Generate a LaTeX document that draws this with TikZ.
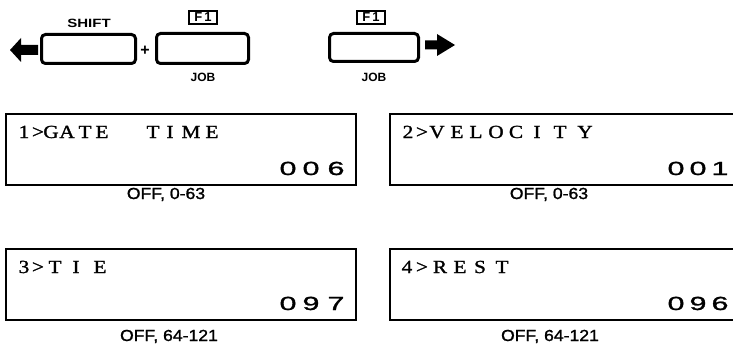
\documentclass[tikz,border=0pt]{standalone}
\usepackage{fontspec}
\usepackage{graphicx}
\setmainfont{Liberation Serif}
\newfontfamily\sansf{Liberation Sans}
\newfontfamily\sansm[FakeBold=1.2]{Liberation Sans}
\newfontfamily\serifm[FakeBold=1.2]{Liberation Serif}
\newcommand\lcdch[1]{\scalebox{1.15}[1]{\fontsize{18.5}{18.5}\serifm #1}}
\newcommand\lcdnum[1]{\scalebox{1.6}[1]{\fontsize{19}{19}\sansm #1}}
\newcommand\rangelbl[1]{\scalebox{1.1}[1]{\fontsize{16}{16}\sansm #1}}
\begin{document}
\begin{tikzpicture}[x=1pt,y=-1pt,
  disp/.style={draw,line width=2pt,inner sep=0,minimum width=350pt,minimum height=71pt},
  key/.style={draw,line width=3pt,rounded corners=4pt,inner sep=0},
  flabel/.style={draw,line width=1.6pt,inner sep=0,minimum width=28pt,minimum height=13.5pt,font=\fontsize{13}{13}\sansf\bfseries},
  keytxt/.style={inner sep=0,font=\fontsize{12}{12}\sansf\bfseries},
  ch/.style={anchor=base,inner sep=0},
  rng/.style={anchor=base,inner sep=0}
]
\useasboundingbox (0,0) rectangle (733,345);
\clip (0,0) rectangle (733,345);
% keys
\node[key,minimum width=94pt,minimum height=29pt] (shift) at (88.5,49) {};
\node[key,minimum width=92pt,minimum height=30pt] (jobA) at (202.5,48.5) {};
\node[key,minimum width=89pt,minimum height=28pt] (jobB) at (374,47.5) {};
\node[keytxt] (shiftlbl) at (89,23) {\scalebox{1.25}[1]{SHIFT}};
\node[flabel] (f1a) at (203,17.5) {F\,1};
\node[flabel] (f1b) at (371,17.5) {F\,1};
\node[keytxt] (joba) at (203,77) {JOB};
\node[keytxt] (jobb) at (374,77) {JOB};
\node[inner sep=0,font=\fontsize{16}{16}\sansf\bfseries] (plus) at (145,51) {+};
% arrows
\fill (10,50) -- (21,38) -- (21,45) -- (38,45) -- (38,55) -- (21,55) -- (21,62) -- cycle;
\fill (455,45) -- (437,34) -- (437,40.5) -- (425,40.5) -- (425,49.5) -- (437,49.5) -- (437,56) -- cycle;
% displays
\node[disp] (d1) at (181,149.5) {};
\node[disp] (d2) at (565,149.5) {};
\node[disp] (d3) at (181,284) {};
\node[disp] (d4) at (565,284) {};
% display texts
\foreach \x/\c [count=\i] in {24/1,38/>,51/G,67/A,85/T,102/E,153/T,170/I,191/M,212/E}
  \node[ch] (a\i) at (\x,138) {\lcdch{\c}};
\foreach \x/\c [count=\i] in {288/0,311/0,336/6}
  \node[ch] (an\i) at (\x,175) {\lcdnum{\c}};
\foreach \x/\c [count=\i] in {408/2,422/>,437/V,457/E,476/L,496/O,516/C,537/I,560/T,585/Y}
  \node[ch] (b\i) at (\x,138) {\lcdch{\c}};
\foreach \x/\c [count=\i] in {676/0,698/0,720/1}
  \node[ch] (bn\i) at (\x,175) {\lcdnum{\c}};
\foreach \x/\c [count=\i] in {24/3,38/>,55/T,76/I,100/E}
  \node[ch] (c\i) at (\x,273) {\lcdch{\c}};
\foreach \x/\c [count=\i] in {288/0,311/9,336/7}
  \node[ch] (cn\i) at (\x,310) {\lcdnum{\c}};
\foreach \x/\c [count=\i] in {407/4,422/>,440/R,460/E,480/S,502/T}
  \node[ch] (e\i) at (\x,273) {\lcdch{\c}};
\foreach \x/\c [count=\i] in {676/0,698/9,720/6}
  \node[ch] (en\i) at (\x,310) {\lcdnum{\c}};
% range labels
\node[rng] (r1) at (166,199) {\rangelbl{OFF, 0-63}};
\node[rng] (r2) at (549,199) {\rangelbl{OFF, 0-63}};
\node[rng] (r3) at (169,341) {\rangelbl{OFF, 64-121}};
\node[rng] (r4) at (550,341) {\rangelbl{OFF, 64-121}};
\end{tikzpicture}
\end{document}
